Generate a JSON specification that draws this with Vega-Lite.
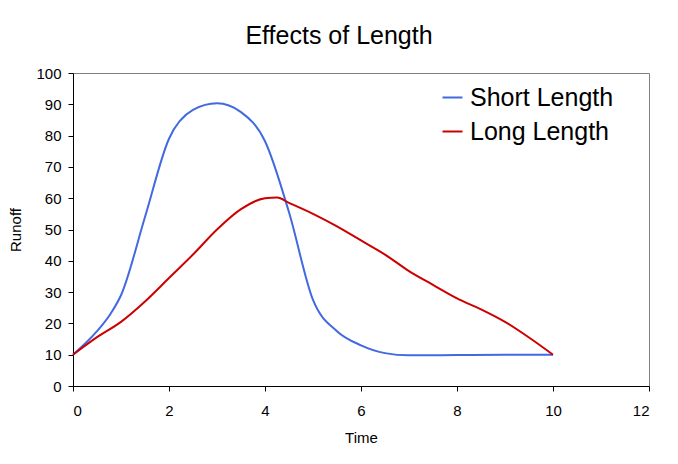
{
  "$schema": "https://vega.github.io/schema/vega-lite/v6.json",
  "width": 576,
  "height": 313,
  "autosize": "none",
  "padding": {"left": 73, "top": 73, "right": 29, "bottom": 78},
  "background": "white",
  "config": {
    "font": "Liberation Sans",
    "view": {"stroke": "#808080", "strokeWidth": 1}
  },
  "title": {
    "text": "Effects of Length",
    "fontSize": 25,
    "fontWeight": "normal",
    "color": "black",
    "anchor": "middle",
    "dx": -22,
    "offset": 17
  },
  "data": {
    "values": [
      {"series": "Short Length", "t": 0, "runoff": 10},
      {"series": "Short Length", "t": 0.5, "runoff": 17.5},
      {"series": "Short Length", "t": 0.8, "runoff": 23.5},
      {"series": "Short Length", "t": 1, "runoff": 29},
      {"series": "Short Length", "t": 1.5, "runoff": 54},
      {"series": "Short Length", "t": 2, "runoff": 79},
      {"series": "Short Length", "t": 2.5, "runoff": 88.2},
      {"series": "Short Length", "t": 3, "runoff": 90.3},
      {"series": "Short Length", "t": 3.5, "runoff": 87.5},
      {"series": "Short Length", "t": 4, "runoff": 78.2},
      {"series": "Short Length", "t": 4.5, "runoff": 55.5},
      {"series": "Short Length", "t": 5, "runoff": 27.5},
      {"series": "Short Length", "t": 5.5, "runoff": 17.5},
      {"series": "Short Length", "t": 6, "runoff": 13},
      {"series": "Short Length", "t": 6.5, "runoff": 10.5},
      {"series": "Short Length", "t": 7, "runoff": 9.8},
      {"series": "Short Length", "t": 8, "runoff": 9.9},
      {"series": "Short Length", "t": 9, "runoff": 10},
      {"series": "Short Length", "t": 10, "runoff": 10},
      {"series": "Long Length", "t": 0, "runoff": 10},
      {"series": "Long Length", "t": 0.5, "runoff": 15.6},
      {"series": "Long Length", "t": 1, "runoff": 20.5},
      {"series": "Long Length", "t": 1.5, "runoff": 27},
      {"series": "Long Length", "t": 2, "runoff": 34.5},
      {"series": "Long Length", "t": 2.5, "runoff": 42},
      {"series": "Long Length", "t": 3, "runoff": 50},
      {"series": "Long Length", "t": 3.5, "runoff": 56.5},
      {"series": "Long Length", "t": 4, "runoff": 60},
      {"series": "Long Length", "t": 4.25, "runoff": 60.2},
      {"series": "Long Length", "t": 4.5, "runoff": 58.5},
      {"series": "Long Length", "t": 5, "runoff": 55},
      {"series": "Long Length", "t": 5.5, "runoff": 51},
      {"series": "Long Length", "t": 6, "runoff": 46.5},
      {"series": "Long Length", "t": 6.5, "runoff": 42},
      {"series": "Long Length", "t": 7, "runoff": 36.7},
      {"series": "Long Length", "t": 7.5, "runoff": 32.3},
      {"series": "Long Length", "t": 8, "runoff": 28},
      {"series": "Long Length", "t": 8.5, "runoff": 24.5},
      {"series": "Long Length", "t": 9, "runoff": 20.5},
      {"series": "Long Length", "t": 9.5, "runoff": 15.5},
      {"series": "Long Length", "t": 10, "runoff": 10}
    ]
  },
  "mark": {"type": "line", "interpolate": "monotone", "strokeWidth": 2},
  "encoding": {
    "x": {
      "field": "t",
      "type": "quantitative",
      "title": "Time",
      "scale": {"domain": [0, 12], "nice": false, "zero": false},
      "axis": {
        "values": [0, 2, 4, 6, 8, 10, 12],
        "grid": false,
        "domainColor": "black",
        "tickColor": "black",
        "tickSize": 5,
        "labelFontSize": 15,
        "labelColor": "black",
        "labelPadding": 12,
        "titleFontSize": 15,
        "titleFontWeight": "normal",
        "titleColor": "black",
        "titlePadding": 12
      }
    },
    "y": {
      "field": "runoff",
      "type": "quantitative",
      "title": "Runoff",
      "scale": {"domain": [0, 100], "nice": false},
      "axis": {
        "values": [0, 10, 20, 30, 40, 50, 60, 70, 80, 90, 100],
        "grid": false,
        "domainColor": "black",
        "tickColor": "black",
        "tickSize": 5,
        "labelFontSize": 15,
        "labelColor": "black",
        "labelPadding": 7,
        "titleFontSize": 15,
        "titleFontWeight": "normal",
        "titleColor": "black",
        "titlePadding": 12
      }
    },
    "color": {
      "field": "series",
      "type": "nominal",
      "scale": {"domain": ["Short Length", "Long Length"], "range": ["#4169E1", "#CC0000"]},
      "legend": {
        "title": null,
        "orient": "none",
        "legendX": 367,
        "legendY": 12,
        "padding": 0,
        "symbolType": "stroke",
        "symbolSize": 400,
        "symbolStrokeWidth": 2,
        "labelFontSize": 25,
        "labelColor": "black",
        "labelOffset": 5,
        "rowPadding": 8,
        "labelLimit": 300
      }
    }
  }
}
